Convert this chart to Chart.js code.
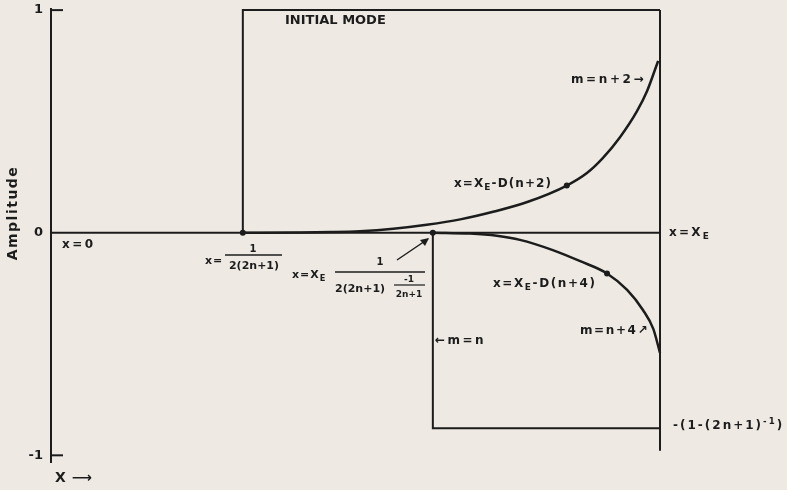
<!DOCTYPE html>
<html>
<head>
<meta charset="utf-8">
<script src="https://cdn.jsdelivr.net/npm/chart.js@4/dist/chart.umd.min.js"></script>
<style>
  html, body { margin: 0; padding: 0; background: #eeeae3; }
  #wrap { width: 787px; height: 490px; position: relative; }
</style>
</head>
<body>
<div id="wrap"><canvas id="c" width="787" height="490"></canvas></div>
<script>
// ---- data (x in units of X_E, amplitude on y) ----
const X_E = 1.0;
const xStep = 0.315;          // x = 1/(2(2n+1))
const xModeN = 0.627;         // x = X_E - ...
const initialLevel = 1.0;
const modeNLevel = -0.878;    // -(1-(2n+1)^-1)
const xeLineBottom = -0.98;

const yTickValues = [-1, 0, 1];
const yTickLabels = ['-1', '0', '1'];

const curveN2X = [0.315, 0.410, 0.460, 0.507, 0.562, 0.617, 0.672, 0.726, 0.782, 0.847, 0.880, 0.906, 0.934, 0.962, 0.979, 0.995, 0.997];
const curveN2Y = [0, 0.001, 0.003, 0.007, 0.018, 0.036, 0.060, 0.094, 0.138, 0.212, 0.268, 0.335, 0.428, 0.545, 0.638, 0.757, 0.772];

const curveN4X = [0.627, 0.688, 0.732, 0.770, 0.824, 0.869, 0.913, 0.946, 0.972, 0.989, 1.0];
const curveN4Y = [0, -0.004, -0.014, -0.032, -0.078, -0.128, -0.183, -0.257, -0.347, -0.432, -0.540];

const markX = [0.315, 0.627, 0.847, 0.913];
const markY = [0, 0, 0.212, -0.183];

// ---- styling ----
const INK = '#1c1c1c';
const BG = '#eeeae3';
const FONT = '"DejaVu Sans", sans-serif';
const W = 'bold ';

const pts = (xs, ys) => xs.map((x, i) => ({ x: x, y: ys[i] }));
const lineDs = (data, extra) => Object.assign({
  data: data, showLine: true, borderColor: INK, borderWidth: 2,
  pointRadius: 0, tension: 0, clip: false, fill: false
}, extra || {});

const datasets = [
  lineDs([{ x: 0, y: 0 }, { x: X_E, y: 0 }]),
  lineDs([{ x: xStep, y: 0 }, { x: xStep, y: initialLevel }, { x: X_E, y: initialLevel }]),
  lineDs([{ x: X_E, y: initialLevel }, { x: X_E, y: xeLineBottom }]),
  lineDs([{ x: xModeN, y: 0 }, { x: xModeN, y: modeNLevel }, { x: X_E, y: modeNLevel }]),
  lineDs(pts(curveN2X, curveN2Y), { borderWidth: 2.5, cubicInterpolationMode: 'monotone' }),
  lineDs(pts(curveN4X, curveN4Y), { borderWidth: 2.5, cubicInterpolationMode: 'monotone' }),
  { data: pts(markX, markY), showLine: false, pointRadius: 3, pointBackgroundColor: INK,
    pointBorderColor: INK, pointBorderWidth: 0, clip: false }
];

function runs(ctx, x, y, parts, size, ls) {
  ctx.save();
  ctx.fillStyle = INK;
  ctx.textBaseline = 'middle';
  ctx.textAlign = 'left';
  ctx.letterSpacing = (ls || 0) + 'px';
  let cx = x;
  parts.forEach(p => {
    const t = typeof p === 'string' ? p : p[0];
    const kind = typeof p === 'string' ? 'n' : p[1];
    let s = size, dy = 0;
    if (kind === 'sub') { s = size * 0.75; dy = size * 0.32; }
    if (kind === 'sup') { s = size * 0.72; dy = -size * 0.38; }
    ctx.font = W + s + 'px ' + FONT;
    ctx.fillText(t, cx, y + dy);
    cx += ctx.measureText(t).width;
  });
  ctx.restore();
}
function centered(ctx, x, y, t, size) {
  ctx.save();
  ctx.fillStyle = INK;
  ctx.font = W + size + 'px ' + FONT;
  ctx.textAlign = 'center';
  ctx.textBaseline = 'middle';
  ctx.fillText(t, x, y);
  ctx.restore();
}
function seg(ctx, x1, y1, x2, y2, w) {
  ctx.save();
  ctx.strokeStyle = INK; ctx.lineWidth = w || 1.5;
  ctx.beginPath(); ctx.moveTo(x1, y1); ctx.lineTo(x2, y2); ctx.stroke();
  ctx.restore();
}

const decor = {
  id: 'decor',
  beforeDraw(chart) {
    const ctx = chart.ctx;
    ctx.save();
    ctx.fillStyle = BG;
    ctx.fillRect(0, 0, chart.width, chart.height);
    ctx.restore();
  },
  afterDraw(chart) {
    const ctx = chart.ctx;
    const ys = chart.scales.y;
    const left = chart.chartArea.left;
    // inward tick marks
    yTickValues.forEach(v => {
      if (v === 0) return;
      const py = ys.getPixelForValue(v);
      seg(ctx, left, py, left + 12, py, 2);
    });
    // axis title
    ctx.save();
    ctx.translate(13, 213);
    ctx.rotate(-Math.PI / 2);
    ctx.fillStyle = INK;
    ctx.font = W + '14px ' + FONT;
    ctx.letterSpacing = '1.5px';
    ctx.textAlign = 'center';
    ctx.textBaseline = 'middle';
    ctx.fillText('Amplitude', 0, 0);
    ctx.restore();

    runs(ctx, 55, 478, ['X ⟶'], 14, 0.5);
    runs(ctx, 62, 245, ['x=0'], 12, 2.5);
    runs(ctx, 285, 21, ['INITIAL MODE'], 13, 0);
    runs(ctx, 571, 80, ['m=n+2→'], 12, 2.6);
    runs(ctx, 454, 184, ['x=X', ['E', 'sub'], '-D(n+2)'], 12, 1.1);
    runs(ctx, 669, 233, ['x=X', ['E', 'sub']], 12, 2.2);
    runs(ctx, 493, 284, ['x=X', ['E', 'sub'], '-D(n+4)'], 12, 1.6);
    runs(ctx, 580, 331, ['m=n+4↗'], 12, 1.6);
    runs(ctx, 435, 341, ['←m=n'], 12, 2.5);
    runs(ctx, 673, 426, ['-(1-(2n+1)', ['-1', 'sup'], ')'], 12, 2);

    // fraction 1
    runs(ctx, 205, 261, ['x='], 11, 1);
    centered(ctx, 253, 249, '1', 10);
    seg(ctx, 225, 255, 282, 255, 1.5);
    centered(ctx, 254, 266, '2(2n+1)', 11);

    // fraction 2
    runs(ctx, 292, 275, ['x=X', ['E', 'sub']], 11, 1);
    seg(ctx, 335, 272, 425, 272, 1.5);
    centered(ctx, 380, 262, '1', 10);
    runs(ctx, 335, 289, ['2(2n+1)'], 11, 0);
    centered(ctx, 409, 280, '-1', 9);
    seg(ctx, 394, 285, 425, 285, 1.2);
    centered(ctx, 409, 295, '2n+1', 9);

    // pointer arrow
    seg(ctx, 397, 260, 428, 239, 1.5);
    ctx.save();
    ctx.fillStyle = INK;
    ctx.beginPath();
    ctx.moveTo(429, 238);
    ctx.lineTo(420, 240);
    ctx.lineTo(425, 246);
    ctx.closePath();
    ctx.fill();
    ctx.restore();
  }
};

new Chart(document.getElementById('c'), {
  type: 'scatter',
  data: { datasets: datasets },
  options: {
    responsive: false,
    animation: false,
    events: [],
    layout: { padding: { left: 0, right: 127, top: 9, bottom: 28 } },
    plugins: { legend: { display: false }, tooltip: { enabled: false } },
    scales: {
      x: { type: 'linear', min: 0, max: X_E, display: false },
      y: {
        type: 'linear', min: -1.03, max: 1.005,
        afterBuildTicks: axis => { axis.ticks = yTickValues.map(v => ({ value: v })); },
        afterFit: axis => { axis.width = 51; axis.paddingTop = 0; axis.paddingBottom = 0; },
        grid: { display: false, drawTicks: false },
        border: { display: true, color: INK, width: 2 },
        ticks: {
          color: INK, padding: 8, font: { family: 'DejaVu Sans', size: 13, weight: 'bold' },
          callback: (v) => yTickLabels[yTickValues.indexOf(v)]
        }
      }
    }
  },
  plugins: [decor]
});
</script>
</body>
</html>
